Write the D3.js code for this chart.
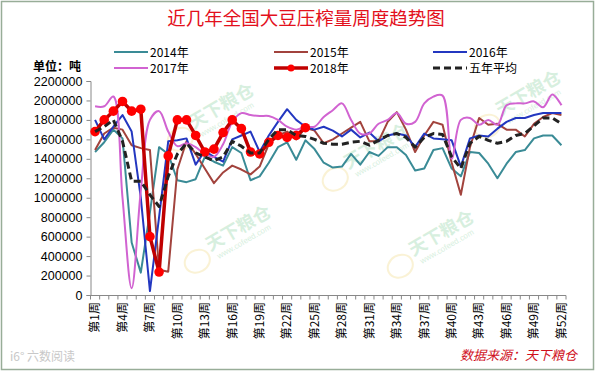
<!DOCTYPE html>
<html>
<head>
<meta charset="utf-8">
<script src="https://cdn.jsdelivr.net/npm/d3@7/dist/d3.min.js"></script>
<style>
body { margin: 0; background: #fff; }
svg { display: block; font-family: "Liberation Sans", Arial, sans-serif; }
.cjk { font-family: "Noto Sans CJK SC", sans-serif; }
</style>
</head>
<body>
<div id="chart"></div>
<script>
// weeks 1..52
var weeks = d3.range(1, 53).map(function (i) { return '第' + i + '周'; });
var yTicks = [0, 200000, 400000, 600000, 800000, 1000000, 1200000, 1400000, 1600000, 1800000, 2000000, 2200000];

var y2014 = [1470000,1570000,1700000,1610000,540000,230000,850000,1520000,1450000,1180000,
	1160000,1190000,1420000,1370000,1330000,1520000,1460000,1180000,1220000,1360000,
	1520000,1570000,1390000,1590000,1500000,1360000,1310000,1320000,1450000,1340000,
	1470000,1430000,1520000,1520000,1440000,1280000,1300000,1490000,1510000,1300000,
	1220000,1470000,1460000,1350000,1200000,1350000,1470000,1490000,1610000,1640000,
	1640000,1540000];
var y2015 = [1490000,1660000,1720000,1700000,1540000,1510000,1490000,260000,240000,1290000,
	1580000,1450000,1300000,1150000,1260000,1330000,1290000,1240000,1320000,1550000,
	1640000,1680000,1600000,1720000,1690000,1560000,1600000,1660000,1720000,1780000,
	1580000,1580000,1780000,1880000,1700000,1470000,1640000,1780000,1750000,1360000,
	1030000,1520000,1820000,1750000,1760000,1700000,1700000,1630000,1760000,1830000,
	1870000,1850000];
var y2016 = [1800000,1600000,1730000,1850000,1680000,1000000,40000,800000,1580000,1590000,
	1610000,1340000,1480000,1420000,1370000,1600000,1640000,1680000,1470000,1640000,
	1780000,1910000,1800000,1730000,1700000,1730000,1690000,1630000,1700000,1620000,
	1670000,1580000,1640000,1660000,1640000,1520000,1660000,1610000,1600000,1590000,
	1320000,1610000,1640000,1630000,1710000,1780000,1820000,1820000,1850000,1870000,
	1870000,1870000];
var y2017 = [1940000,1940000,2040000,1000000,70000,1070000,1800000,1890000,1680000,1530000,
	1560000,1520000,1450000,1420000,1550000,1780000,1870000,1850000,1840000,1840000,
	1800000,1730000,1700000,1730000,1730000,1830000,1900000,1970000,1800000,1660000,
	1660000,1760000,1800000,1870000,1760000,1780000,1970000,2040000,2050000,1400000,
	1800000,1820000,1750000,1800000,1750000,1950000,1970000,1970000,1990000,1930000,
	2060000,1950000];
var y2018 = [1680000,1800000,1890000,1990000,1890000,1910000,600000,236000,1430000,1800000,
	1800000,1640000,1470000,1500000,1670000,1800000,1710000,1470000,1450000,1570000,
	1640000,1620000,1640000,1720000];
var yAvg = [1680000,1730000,1800000,1580000,1170000,1170000,1030000,910000,1220000,1450000,
	1560000,1460000,1420000,1380000,1420000,1580000,1530000,1460000,1460000,1600000,
	1700000,1700000,1640000,1630000,1600000,1560000,1550000,1550000,1570000,1580000,
	1540000,1590000,1640000,1660000,1620000,1520000,1620000,1660000,1650000,1420000,
	1300000,1560000,1630000,1590000,1560000,1580000,1640000,1660000,1740000,1820000,
	1820000,1760000];

var series = [
	{name: '2014年', values: y2014, color: '#3a8b96', width: 2},
	{name: '2015年', values: y2015, color: '#a2433d', width: 2},
	{name: '2016年', values: y2016, color: '#2337c0', width: 2},
	{name: '2017年', values: y2017, color: '#d163d1', width: 2, smooth: true},
	{name: '2018年', values: y2018, color: '#c00000', width: 3.5, marker: '#ff0000'},
	{name: '五年平均', values: yAvg, color: '#222222', width: 3, dash: '7,4'}
];

var W = 595, H = 373;
var svg = d3.select('#chart').append('svg').attr('width', W).attr('height', H);

svg.append('rect').attr('x', 1.5).attr('y', 1.5).attr('width', W - 3).attr('height', 368)
	.attr('fill', '#fff').attr('stroke', '#98ad98').attr('stroke-width', 1.5);

var x = d3.scaleBand().domain(weeks).range([90.5, 566]);
var y = d3.scaleLinear().domain([0, 2200000]).range([295, 81]);
var cx = function (i) { return x(weeks[i]) + x.bandwidth() / 2; };

// watermarks
var marks = [[205, 118], [222, 240], [360, 158], [425, 245], [512, 105]];
marks.forEach(function (m) {
	var g = svg.append('g').attr('transform', 'translate(' + m[0] + ',' + m[1] + ') rotate(-30)').attr('opacity', 0.35);
	g.append('ellipse').attr('cx', -32).attr('cy', 6).attr('rx', 13).attr('ry', 11)
		.attr('fill', 'none').attr('stroke', '#f3dc8a').attr('stroke-width', 2);
	g.append('text').attr('class', 'cjk').attr('x', -16).attr('y', 4).attr('font-size', 18)
		.attr('font-weight', 'bold').attr('fill', '#8ed3a4').text('天下粮仓');
	g.append('text').attr('x', -12).attr('y', 15).attr('font-size', 8)
		.attr('fill', '#8ed3a4').text('www.cofeed.com');
});

// title
svg.append('text').attr('class', 'cjk').attr('x', 306).attr('y', 25).attr('text-anchor', 'middle')
	.attr('font-size', 18.5).attr('fill', '#e3101c').text('近几年全国大豆压榨量周度趋势图');

svg.append('text').attr('class', 'cjk').attr('x', 33).attr('y', 71).attr('font-size', 12)
	.attr('font-weight', 'bold').attr('fill', '#000').text('单位：吨');

// legend
var legPos = [[114, 52], [274, 52], [433, 52], [114, 68], [274, 68], [433, 68]];
series.forEach(function (s, i) {
	var p = legPos[i];
	var g = svg.append('g').attr('transform', 'translate(' + p[0] + ',' + p[1] + ')');
	g.append('line').attr('x1', 0).attr('x2', 34).attr('y1', 0).attr('y2', 0)
		.attr('stroke', s.color).attr('stroke-width', s.width).attr('stroke-dasharray', s.dash || null);
	if (s.marker) g.append('circle').attr('cx', 17).attr('cy', 0).attr('r', 3.5).attr('fill', s.marker);
	g.append('text').attr('class', 'cjk').attr('x', 36).attr('y', 4.5).attr('font-size', 12)
		.attr('fill', '#000').text(s.name);
});

// y axis
var yAxis = svg.append('g').attr('transform', 'translate(90.5,0)')
	.call(d3.axisLeft(y).tickValues(yTicks).tickSize(4).tickPadding(4).tickFormat(d3.format('d')));
yAxis.select('.domain').attr('stroke', '#888');
yAxis.selectAll('.tick line').attr('stroke', '#888');
yAxis.selectAll('.tick text').attr('font-size', 12.5).attr('fill', '#000')
	.attr('font-family', '"Liberation Sans", Arial, sans-serif');

// x axis
var xg = svg.append('g');
xg.append('line').attr('x1', x.range()[0]).attr('x2', x.range()[1]).attr('y1', 295.5).attr('y2', 295.5)
	.attr('stroke', '#888');
xg.selectAll('line.tk').data(d3.range(weeks.length + 1)).enter().append('line').attr('class', 'tk')
	.attr('x1', function (i) { return x.range()[0] + i * x.step(); })
	.attr('x2', function (i) { return x.range()[0] + i * x.step(); })
	.attr('y1', 295.5).attr('y2', 299.5).attr('stroke', '#888');
xg.selectAll('text').data(weeks.filter(function (d, i) { return i % 3 === 0; })).enter().append('text')
	.attr('class', 'cjk')
	.attr('transform', function (d) { return 'translate(' + (x(d) + x.bandwidth() / 2) + ',302) rotate(-90)'; })
	.attr('text-anchor', 'end').attr('dy', '0.36em').attr('font-size', 12).attr('fill', '#000')
	.text(function (d) { return d; });

// lines
series.forEach(function (s) {
	var line = d3.line().x(function (d, i) { return cx(i); }).y(function (d) { return y(d); });
	if (s.smooth) line.curve(d3.curveCatmullRom.alpha(0.5));
	svg.append('path').datum(s.values).attr('d', line).attr('fill', 'none')
		.attr('stroke', s.color).attr('stroke-width', s.width).attr('stroke-linejoin', 'round')
		.attr('stroke-dasharray', s.dash || null);
	if (s.marker) {
		svg.selectAll(null).data(s.values).enter().append('circle')
			.attr('cx', function (d, i) { return cx(i); }).attr('cy', function (d) { return y(d); })
			.attr('r', 4.8).attr('fill', s.marker);
	}
});

// footer
svg.append('text').attr('class', 'cjk').attr('x', 577).attr('y', 360).attr('text-anchor', 'end')
	.attr('font-size', 13).attr('font-style', 'italic').attr('fill', '#d0101c').text('数据来源：天下粮仓');
svg.append('text').attr('class', 'cjk').attr('x', 10).attr('y', 361).attr('font-size', 12)
	.attr('fill', '#c8c8c8').text('i6° 六数阅读');
</script>
</body>
</html>
